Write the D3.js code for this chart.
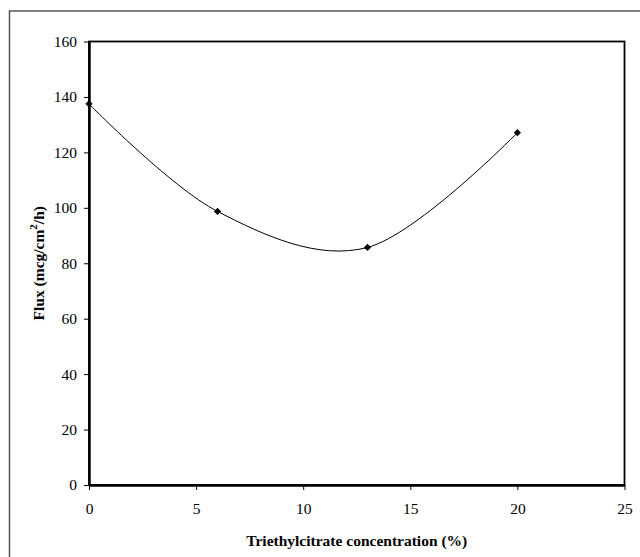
<!DOCTYPE html>
<html>
<head>
<meta charset="utf-8">
<script src="https://cdn.jsdelivr.net/npm/d3@7"></script>
<style>
  body { margin: 0; background: #fff; }
  svg text { font-family: "Liberation Serif", "Times New Roman", serif; }
</style>
</head>
<body>
<div id="chart"></div>
<script>

// data
var concentration = [0, 6, 13, 20];
var flux = [137.5, 98.7, 85.7, 127.1];
var xTicks = [0, 5, 10, 15, 20, 25];
var yTicks = [0, 20, 40, 60, 80, 100, 120, 140, 160];

function drawChart(){

    var width = 640,
        height = 557;

    var margin = {left: 89, top: 41.5, right: 640 - 624.5, bottom: 557 - 485};

    var svg = d3.select('#chart')
        .append('svg')
        .attr('width', width)
        .attr('height', height);

    //outer frame, only top and left visible
    svg.append('rect')
        .attr('x', 9.5)
        .attr('y', 11)
        .attr('width', 700)
        .attr('height', 700)
        .attr('fill', 'none')
        .attr('stroke', '#555')
        .attr('stroke-width', 1.5);

    var x = d3.scaleLinear()
        .domain([0, 25])
        .range([margin.left, width - margin.right]);

    var y = d3.scaleLinear()
        .domain([0, 160])
        .range([height - margin.bottom, margin.top]);

    //plot area box
    svg.append('rect')
        .attr('x', x(0))
        .attr('y', y(160))
        .attr('width', x(25) - x(0))
        .attr('height', y(0) - y(160))
        .attr('fill', 'none')
        .attr('stroke', '#000')
        .attr('stroke-width', 1.8);

    var xAxis = svg.append('g')
        .attr('transform', 'translate(0,' + y(0) + ')')
        .call(d3.axisBottom(x).tickValues(xTicks).tickSize(5).tickSizeOuter(0).tickPadding(13));

    var yAxis = svg.append('g')
        .attr('transform', 'translate(' + x(0) + ',0)')
        .call(d3.axisLeft(y).tickValues(yTicks).tickSize(5).tickSizeOuter(0).tickPadding(7));

    [xAxis, yAxis].forEach(function(g){
        g.select('.domain').attr('stroke', '#000').attr('stroke-width', 2.5);
        g.selectAll('.tick line').attr('stroke', '#000').attr('stroke-width', 1);
        g.selectAll('.tick text')
            .attr('font-family', '"Liberation Serif", serif')
            .attr('font-size', 15.5)
            .attr('fill', '#000');
    });

    var points = concentration.map(function(c, i){ return [c, flux[i]]; });

    var line = d3.line()
        .x(function(d){ return x(d[0]); })
        .y(function(d){ return y(d[1]); })
        .curve(d3.curveCardinal.tension(0));

    svg.append('path')
        .datum(points)
        .attr('d', line)
        .attr('fill', 'none')
        .attr('stroke', '#000')
        .attr('stroke-width', 1);

    //diamond markers: squares turned 45 degrees
    svg.selectAll('.marker')
        .data(points)
        .enter()
        .append('path')
        .attr('class', 'marker')
        .attr('d', d3.symbol().type(d3.symbolSquare).size(26))
        .attr('transform', function(d){ return 'translate(' + x(d[0]) + ',' + y(d[1]) + ') rotate(45)'; })
        .attr('fill', '#000');

    //axis titles
    svg.append('text')
        .attr('x', (x(0) + x(25)) / 2)
        .attr('y', 546)
        .attr('text-anchor', 'middle')
        .attr('font-size', 15.5)
        .attr('font-weight', 'bold')
        .text('Triethylcitrate concentration (%)');

    var yTitle = svg.append('text')
        .attr('transform', 'translate(44,' + ((y(0) + y(160)) / 2) + ') rotate(-90)')
        .attr('text-anchor', 'middle')
        .attr('font-size', 15.5)
        .attr('font-weight', 'bold');
    yTitle.append('tspan').text('Flux (mcg/cm');
    yTitle.append('tspan').attr('dy', -7).attr('font-size', 11).text('2');
    yTitle.append('tspan').attr('dy', 7).text('/h)');
}

window.onload = drawChart;
</script>
</body>
</html>
